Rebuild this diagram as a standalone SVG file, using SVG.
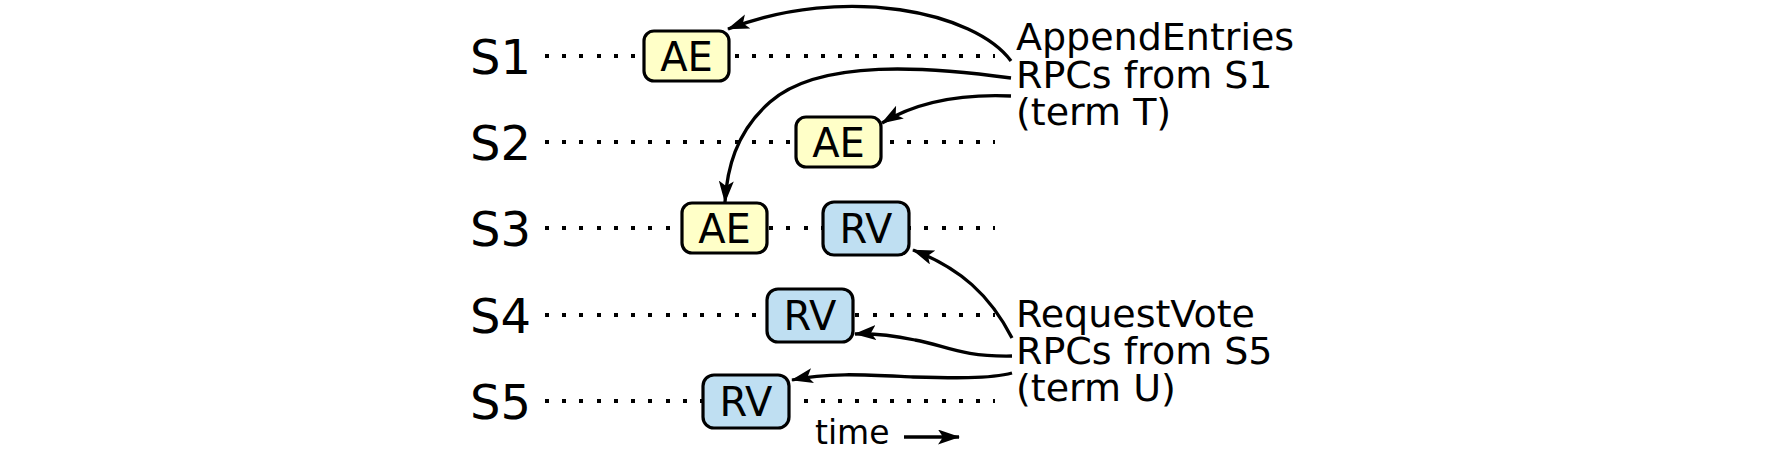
<svg xmlns="http://www.w3.org/2000/svg" width="1780" height="450" viewBox="0 0 1780 450">
<style>
text{font-family:"DejaVu Sans","Liberation Sans",sans-serif;fill:#000}
.srv{font-size:48px}
.lbl{font-size:38px}
.box{stroke:#000;stroke-width:3.2}
.ae{fill:#ffffc8}
.rv{fill:#bfdff2}
.bt{font-size:40px;text-anchor:middle}
.dot{stroke:#000;stroke-width:4;stroke-dasharray:4 13.24;fill:none;shape-rendering:crispEdges}
.con{stroke:#000;stroke-width:3.3;fill:none;marker-end:url(#ah)}
</style>
<defs>
<marker id="ah" markerUnits="userSpaceOnUse" markerWidth="24" markerHeight="16" refX="21" refY="7.5" orient="auto">
<path d="M0,0 L22,7.5 L0,15 L5,7.5 z" fill="#000"/>
</marker>
</defs>
<g id="timelines">
<line class="dot" x1="545" y1="56" x2="994.6" y2="56"/>
<line class="dot" x1="545" y1="142" x2="994.6" y2="142"/>
<line class="dot" x1="545" y1="228" x2="994.6" y2="228"/>
<line class="dot" x1="545" y1="315" x2="994.6" y2="315"/>
<line class="dot" x1="545" y1="401" x2="994.6" y2="401"/>
</g>
<g id="server-labels">
<text class="srv" x="470" y="74">S1</text>
<text class="srv" x="470" y="160">S2</text>
<text class="srv" x="470" y="246">S3</text>
<text class="srv" x="470" y="333">S4</text>
<text class="srv" x="470" y="419">S5</text>
</g>
<g id="s1-ae"><rect class="box ae" x="644" y="31" width="85" height="50" rx="10"/><text class="bt" x="686.5" y="70.5">AE</text></g>
<g id="s2-ae"><rect class="box ae" x="796" y="117" width="85" height="50" rx="10"/><text class="bt" x="838.5" y="156.5">AE</text></g>
<g id="s3-ae"><rect class="box ae" x="682" y="203" width="85" height="50" rx="10"/><text class="bt" x="724.5" y="242.5">AE</text></g>
<g id="s3-rv"><rect class="box rv" x="823" y="202" width="86" height="53" rx="11"/><text class="bt" x="866" y="243">RV</text></g>
<g id="s4-rv"><rect class="box rv" x="767" y="289" width="86" height="53" rx="11"/><text class="bt" x="810" y="330">RV</text></g>
<g id="s5-rv"><rect class="box rv" x="703" y="375" width="86" height="53" rx="11"/><text class="bt" x="746" y="416">RV</text></g>
<g id="ae-label">
<text class="lbl" x="1016" y="50">AppendEntries</text>
<text class="lbl" x="1016" y="88">RPCs from S1</text>
<text class="lbl" x="1016" y="125">(term T)</text>
</g>
<g id="rv-label">
<text class="lbl" x="1016" y="327">RequestVote</text>
<text class="lbl" x="1016" y="364">RPCs from S5</text>
<text class="lbl" x="1016" y="401">(term U)</text>
</g>
<g id="connectors">
<path class="con" d="M1011,61 C975,12 845,-16 728,29"/>
<path class="con" d="M1011,78 C930,67 820,58 770,102 C735,133 727,170 725,202"/>
<path class="con" d="M1011,96 C965,94 920,100 882,123"/>
<path class="con" d="M1012,338 C990,295 960,268 913,250"/>
<path class="con" d="M1012,356 C960,357 945,345 915,340 C890,335 870,333 855,334"/>
<path class="con" d="M1012,373 C990,379 950,378 913,377 C870,375 830,372 792,380"/>
<path class="con" d="M904,437 L959,437"/>
</g>
<g id="time-label"><text x="815" y="444" style="font-size:33px">time</text></g>
</svg>
